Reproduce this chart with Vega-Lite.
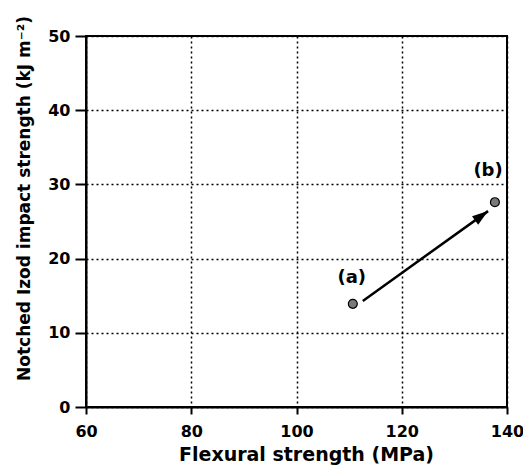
{
  "$schema": "https://vega.github.io/schema/vega-lite/v6.json",
  "width": 421,
  "height": 371,
  "autosize": {"type": "none"},
  "padding": {"left": 86, "top": 36, "right": 16, "bottom": 62},
  "background": "white",
  "config": {
    "view": {"stroke": "black", "strokeWidth": 2},
    "axis": {
      "labelFont": "DejaVu Sans", "labelFontWeight": "bold", "labelFontSize": 16, "labelColor": "black",
      "titleFont": "DejaVu Sans", "titleFontWeight": "bold", "titleFontSize": 17, "titleColor": "black",
      "domainColor": "black", "domainWidth": 2, "tickColor": "black", "tickWidth": 2,
      "gridColor": "black", "gridDash": [2, 3], "gridWidth": 1.5, "gridOpacity": 1,
      "labelFlush": false, "labelOverlap": false
    }
  },
  "datasets": {
    "points": [
      {"strength": 110.7, "impact": 13.9, "label": "(a)"},
      {"strength": 137.7, "impact": 27.6, "label": "(b)"}
    ],
    "labels": [
      {"strength": 110.5, "impact": 17.4, "label": "(a)"},
      {"strength": 136.4, "impact": 31.8, "label": "(b)"}
    ],
    "arrow": [
      {"x1": 112.6, "y1": 14.3, "x2": 136.4, "y2": 26.4}
    ]
  },
  "layer": [
    {
      "data": {"name": "points"},
      "mark": {"type": "point", "filled": true, "size": 80, "color": "#7a7a7a", "stroke": "black", "strokeWidth": 1.2, "opacity": 1},
      "encoding": {
        "x": {"field": "strength", "type": "quantitative", "scale": {"domain": [60, 140], "nice": false},
              "axis": {"values": [60, 80, 100, 120, 140], "title": "Flexural strength (MPa)", "titlePadding": 6, "titleFontSize": 19, "titleX": 220, "tickSize": 7, "labelPadding": 9, "labelFontWeight": "bold", "labelFont": "DejaVu Sans", "labelFontSize": 16}},
        "y": {"field": "impact", "type": "quantitative", "scale": {"domain": [0, 50], "nice": false},
              "axis": {"values": [0, 10, 20, 30, 40, 50], "title": "Notched Izod impact strength (kJ m⁻²)", "titlePadding": 14, "titleY": 162, "tickSize": 11, "labelPadding": 5, "labelFontWeight": "bold", "labelFont": "DejaVu Sans", "labelFontSize": 16}}
      }
    },
    {
      "data": {"name": "labels"},
      "mark": {"type": "text", "font": "DejaVu Sans", "fontWeight": "bold", "fontSize": 18, "color": "black"},
      "encoding": {
        "x": {"field": "strength", "type": "quantitative"},
        "y": {"field": "impact", "type": "quantitative"},
        "text": {"field": "label"}
      }
    },
    {
      "data": {"name": "arrow"},
      "mark": {"type": "rule", "color": "black", "strokeWidth": 2.5},
      "encoding": {
        "x": {"field": "x1", "type": "quantitative"},
        "y": {"field": "y1", "type": "quantitative"},
        "x2": {"field": "x2"},
        "y2": {"field": "y2"}
      }
    },
    {
      "data": {"name": "arrow"},
      "mark": {"type": "point", "filled": true, "color": "black", "opacity": 1, "size": 256, "angle": 324, "shape": "M0,0L-2,-0.65L-2,0.65Z"},
      "encoding": {
        "x": {"field": "x2", "type": "quantitative"},
        "y": {"field": "y2", "type": "quantitative"}
      }
    }
  ]
}
